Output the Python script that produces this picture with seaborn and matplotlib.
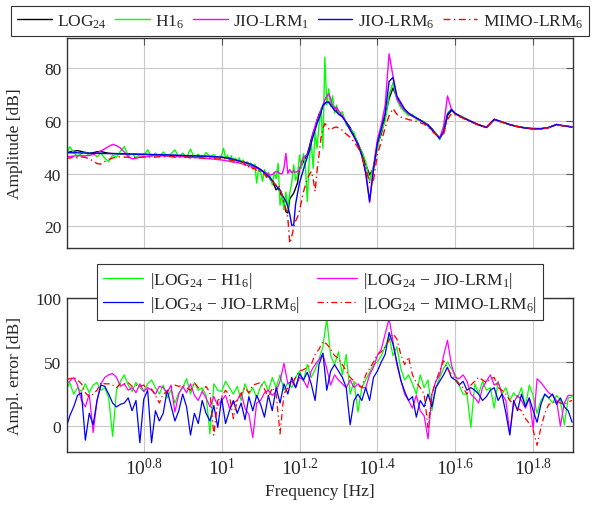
import numpy as np
import pandas as pd
import matplotlib
matplotlib.use("Agg")
import matplotlib.pyplot as plt
import seaborn as sns
from matplotlib.ticker import FixedLocator, FixedFormatter, NullLocator

# ---------------- data ----------------
# log10 of frequency [Hz] for the amplitude panel
LOG_F_TOP = [
    0.60, 0.61, 0.62, 0.63, 0.64, 0.65, 0.66, 0.67, 0.68, 0.69,
    0.70, 0.71, 0.72, 0.73, 0.74, 0.75, 0.76, 0.77, 0.78, 0.79,
    0.80, 0.81, 0.82, 0.83, 0.84, 0.85, 0.86, 0.87, 0.88, 0.89,
    0.90, 0.91, 0.92, 0.93, 0.94, 0.95, 0.96, 0.97, 0.98, 0.99,
    1.00,
    1.005, 1.010, 1.015, 1.020, 1.025, 1.030, 1.035, 1.040, 1.045, 1.050,
    1.055, 1.060, 1.065, 1.070, 1.075, 1.080, 1.085, 1.090, 1.095, 1.100,
    1.105, 1.110, 1.115, 1.120, 1.125, 1.130, 1.135, 1.140, 1.145, 1.150,
    1.155, 1.160, 1.165, 1.170, 1.175, 1.180, 1.185, 1.190, 1.195, 1.200,
    1.205, 1.210, 1.215, 1.220, 1.225, 1.230, 1.235, 1.240, 1.245, 1.250,
    1.255, 1.260, 1.265, 1.270, 1.275, 1.280, 1.285, 1.290, 1.295, 1.300,
    1.31, 1.32, 1.33, 1.34, 1.35, 1.36, 1.37, 1.38, 1.39, 1.40,
    1.41, 1.42, 1.43, 1.44, 1.45, 1.46, 1.47, 1.48, 1.49, 1.50,
    1.51, 1.52, 1.53, 1.54, 1.55, 1.56, 1.57, 1.58, 1.59, 1.60,
    1.62, 1.64, 1.66, 1.68, 1.70, 1.72, 1.74, 1.76, 1.78, 1.80,
    1.82, 1.84, 1.86, 1.88, 1.90,
]

AMP_LOG24 = [
    48.0, 48.2, 48.5, 48.7, 48.4, 48.0, 47.7, 47.9, 48.3, 48.4,
    48.0, 47.7, 47.6, 47.6, 47.5, 47.5, 47.4, 47.4, 47.3, 47.3,
    47.3, 47.2, 47.2, 47.1, 47.1, 47.0, 47.0, 46.9, 46.9, 46.8,
    46.8, 46.7, 46.7, 46.6, 46.6, 46.6, 46.5, 46.5, 46.4, 46.3,
    46.2,
    46.1, 46.0, 45.9, 45.8, 45.6, 45.4, 45.2, 45.0, 44.8, 44.6,
    44.4, 44.2, 44.0, 43.8, 43.5, 43.2, 42.8, 42.4, 42.0, 41.5,
    40.9, 40.3, 39.6, 39.0, 38.2, 37.0, 35.5, 33.8, 34.5, 33.0,
    31.0, 28.2, 25.5, 25.0, 30.5, 31.5, 32.5, 34.5, 36.5, 42.0,
    43.0, 44.5, 46.0, 47.5, 50.0, 53.0, 55.5, 57.5, 60.0, 62.5,
    64.0, 65.5, 66.5, 67.0, 67.2, 66.8, 65.9, 65.0, 64.0, 63.0,
    61.8, 59.5, 57.5, 54.6, 51.5, 48.0, 43.5, 39.5, 42.0, 51.0,
    55.0, 61.5, 68.5, 72.5, 69.0, 66.0, 64.2, 62.8, 61.8, 61.0,
    60.3, 59.5, 58.5, 57.0, 55.2, 53.5, 55.8, 62.0, 64.0, 62.8,
    61.3, 59.9, 58.6, 57.6, 60.6, 59.6, 58.6, 57.9, 57.4, 57.1,
    57.1, 57.5, 58.7, 58.1, 57.7,
]

AMP_H1 = [
    47.0, 50.2, 48.0, 46.5, 47.7, 48.3, 46.8, 47.5, 46.4, 47.8,
    45.8, 44.5, 47.0, 46.2, 48.5, 50.2, 46.8, 47.6, 46.0, 47.3,
    47.0, 49.0, 46.5, 47.8, 46.3, 48.2, 46.6, 47.5, 49.0, 46.4,
    47.8, 46.2, 49.3, 46.0, 47.4, 45.8, 48.0, 46.5, 47.2, 45.9,
    47.0,
    49.6, 45.8, 47.0, 44.8, 46.8, 44.0, 45.9, 44.3, 46.0, 43.9,
    45.2, 43.5, 44.6, 42.8, 44.0, 41.8, 43.6, 36.4, 42.0, 40.6,
    37.0, 41.5, 39.0, 40.5, 38.8, 35.7, 40.5, 38.0, 43.9, 28.0,
    32.0, 26.3, 33.0, 27.0, 32.5, 36.5, 43.3, 37.5, 39.5, 47.0,
    42.0, 47.5, 43.0, 29.4, 45.5, 52.0, 42.0, 55.8, 49.6, 58.4,
    64.7, 49.6, 84.2, 66.0, 72.2, 65.5, 69.5, 63.0, 66.0, 62.5,
    63.5, 58.5, 57.0, 55.5, 51.0, 48.5, 44.5, 37.0, 43.0, 49.5,
    56.0, 60.0, 70.0, 74.5, 68.0, 65.0, 63.5, 62.0, 62.5, 60.5,
    60.0, 59.8, 58.0, 56.5, 55.5, 52.8, 56.5, 63.0, 64.5, 62.5,
    61.5, 59.8, 58.3, 57.8, 60.4, 59.7, 58.4, 58.0, 57.2, 57.2,
    57.0, 57.6, 58.5, 58.2, 57.8,
]

AMP_JIO1 = [
    46.4, 46.5, 46.6, 46.8, 46.8, 46.7, 46.9, 47.2, 47.8, 48.6,
    49.4, 50.3, 51.1, 50.6, 49.7, 48.2, 46.5, 45.6, 45.8, 46.2,
    46.3, 46.5, 46.7, 46.8, 46.8, 46.7, 46.6, 46.6, 46.5, 46.5,
    46.4, 46.3, 46.2, 46.1, 46.0, 45.9, 45.8, 45.6, 45.5, 45.3,
    45.2,
    45.0, 44.9, 44.8, 44.6, 44.5, 44.4, 44.3, 44.2, 44.0, 43.8,
    43.6, 43.4, 43.2, 43.0, 42.8, 42.5, 42.2, 42.0, 41.7, 41.4,
    41.0, 40.6, 40.2, 39.8, 39.5, 39.6, 40.3, 40.8, 40.5, 40.0,
    39.8, 42.0, 47.7, 40.0, 41.5, 40.3, 41.0, 40.5, 40.8, 41.4,
    44.5, 46.0, 46.8, 47.0, 49.0, 52.0, 55.5, 58.0, 60.5, 62.0,
    64.0, 66.0, 68.0, 69.5, 70.3, 68.5, 65.5, 64.5, 65.3, 64.0,
    62.0, 59.3, 56.8, 54.0, 51.0, 47.0, 41.0, 29.0, 42.5, 53.0,
    58.5, 66.0, 85.5, 77.0, 68.5, 66.0, 64.0, 62.8, 61.8, 61.0,
    60.2, 59.3, 58.3, 56.6, 55.0, 53.5, 58.0, 69.5, 64.5, 62.8,
    61.2, 59.8, 58.5, 57.5, 60.6, 59.6, 58.6, 57.8, 57.3, 57.0,
    57.0, 57.5, 58.6, 58.1, 57.7,
]

AMP_JIO6 = [
    47.9, 47.9, 47.9, 47.9, 47.8, 47.8, 47.7, 47.7, 47.7, 47.7,
    47.6, 47.6, 47.6, 47.5, 47.5, 47.5, 47.4, 47.4, 47.4, 47.3,
    47.3, 47.3, 47.2, 47.2, 47.2, 47.1, 47.1, 47.0, 47.0, 46.9,
    46.9, 46.8, 46.8, 46.7, 46.7, 46.6, 46.6, 46.5, 46.4, 46.3,
    46.2,
    46.1, 46.0, 45.9, 45.8, 45.6, 45.4, 45.2, 45.0, 44.8, 44.6,
    44.4, 44.2, 44.0, 43.8, 43.5, 43.2, 42.8, 42.4, 42.0, 41.5,
    40.9, 40.3, 39.6, 39.0, 38.3, 37.3, 36.3, 35.3, 34.5, 33.8,
    32.0, 30.7, 29.5, 27.5, 24.5, 20.3, 20.5, 28.5, 32.5, 36.5,
    39.0, 41.5, 44.0, 46.2, 48.5, 51.5, 54.2, 56.5, 59.0, 61.0,
    63.0, 65.8, 66.8, 67.2, 67.0, 66.0, 65.0, 64.0, 63.4, 62.6,
    61.5, 59.5, 56.5, 54.0, 51.0, 47.0, 40.0, 29.5, 41.5, 51.5,
    57.0, 63.0, 75.0, 76.5, 69.5, 67.0, 64.5, 63.0, 62.0, 61.2,
    60.3, 59.3, 58.4, 56.8, 55.0, 53.3, 56.0, 62.5, 64.3, 62.8,
    61.2, 59.8, 58.5, 57.5, 60.6, 59.6, 58.6, 57.8, 57.3, 57.0,
    57.0, 57.5, 58.6, 58.1, 57.7,
]

AMP_MIMO6 = [
    45.8, 45.9, 46.2, 46.0, 46.3, 46.1, 45.6, 44.8, 43.8, 43.6,
    44.6, 45.4, 45.9, 46.2, 46.4, 46.3, 46.2, 46.0, 46.1, 46.2,
    46.3, 46.1, 46.4, 46.2, 46.5, 46.3, 46.6, 46.4, 46.2, 46.3,
    46.1, 46.3, 45.9, 46.1, 45.8, 46.0, 45.6, 45.9, 45.7, 46.0,
    45.6,
    45.8, 45.5, 45.2, 45.4, 44.9, 45.1, 44.6, 44.2, 44.5, 43.9,
    44.6, 43.2, 43.6, 42.5, 42.9, 41.8, 42.0, 41.0, 41.4, 40.5,
    40.0, 39.8, 38.6, 38.9, 37.6, 38.0, 36.2, 35.5, 36.0, 34.0,
    32.0, 29.0, 26.5, 23.0, 13.5, 16.0, 19.5, 22.0, 23.5, 26.0,
    29.5, 33.0, 35.5, 38.0, 39.5, 40.8, 38.0, 33.2, 41.0, 47.0,
    53.5, 57.0, 59.0, 58.0, 57.0, 56.5, 57.2, 57.5, 57.7, 57.3,
    56.5, 55.0, 53.8, 52.0, 50.0, 46.5, 42.0, 36.5, 37.5, 47.5,
    52.0, 57.5, 62.0, 64.7, 62.5, 61.5, 61.0, 60.5, 60.2, 59.8,
    59.3, 58.8, 57.8, 56.2, 54.8, 53.5, 55.0, 60.5, 62.8, 62.3,
    61.0, 59.6, 58.4, 57.4, 60.3, 59.5, 58.5, 57.8, 57.2, 56.9,
    56.9, 57.4, 58.5, 58.0, 57.6,
]

# log10 of frequency [Hz] for the error panel
LOG_F_ERR = [
    0.60, 0.61, 0.62, 0.63, 0.64, 0.65, 0.66, 0.67, 0.68, 0.69,
    0.70, 0.71, 0.72, 0.73, 0.74, 0.75, 0.76, 0.77, 0.78, 0.79,
    0.80, 0.81, 0.82, 0.83, 0.84, 0.85, 0.86, 0.87, 0.88, 0.89,
    0.90, 0.91, 0.92, 0.93, 0.94, 0.95, 0.96, 0.97, 0.98, 0.99,
    1.00, 1.01, 1.02, 1.03, 1.04, 1.05, 1.06, 1.07, 1.08, 1.09,
    1.10, 1.11, 1.12, 1.13, 1.14, 1.15, 1.16, 1.17, 1.18, 1.19,
    1.20, 1.21, 1.22, 1.23, 1.24, 1.25, 1.26, 1.27, 1.28, 1.29,
    1.30, 1.31, 1.32, 1.33, 1.34, 1.35, 1.36, 1.37, 1.38, 1.39,
    1.40, 1.41, 1.42, 1.43, 1.44, 1.45, 1.46, 1.47, 1.48, 1.49,
    1.50, 1.51, 1.52, 1.53, 1.54, 1.55, 1.56, 1.57, 1.58, 1.59,
    1.60, 1.61, 1.62, 1.63, 1.64, 1.65, 1.66, 1.67, 1.68, 1.69,
    1.70, 1.71, 1.72, 1.73, 1.74, 1.75, 1.76, 1.77, 1.78, 1.79,
    1.80, 1.81, 1.82, 1.83, 1.84, 1.85, 1.86, 1.87, 1.88, 1.89,
    1.90,
]

ERR_H1 = [
    28, 34, 25, 30, 27, 33, 26, 32, 34, 28,
    30, 22, -8, 28, 35, 40, 32, 27, 34, 30,
    27, 33, 36, 30, 25, 32, 22, 28, 18, 26,
    30, 37, 25, 34, 28, 30, 24, -6, 33, 28,
    27, 35, 30, 25, 31, 20, 33, 25, 30, 22,
    31, 35, 27, 38, 30, 40, 28, 34, 30, 38,
    43, 35, 48, 38, 44, 52, 62, 84, 55, 48,
    58, 40, 56, 25, 35, 11, 30, 36, 42, 48,
    50, 55, 62, 70, 55, 62, 45, 36, 40, 33,
    25, 40, 30, 36, 12, 30, 38, 45, 50, 45,
    40, 32, 25, 25, -1, 33, 25, 35, 28, 30,
    14, 35, 25, 30, 20, 26, 22, 30, 15, 32,
    24, 10, 20, 25, 22, 18, 24, 20, 1, 22,
    23,
]

ERR_JIO1 = [
    33, 35, 38, 32, 20, 15, 25, -5, 20, 33,
    38, 40, 41, 38, 31, 33, 28, 30, 26, 33,
    27, 30, 28, 25, 31, 30, 26, 32, 11, 25,
    31, 26, 33, 24, 20, 27, 22, 15, 23, 16,
    20, 24, 14, 18, 20, 26, 14, 9, -9, 18,
    20, 26, 28, 24, 27, 35, 49, 33, 35, 30,
    38, 36, 30, 43, 48, 52, 56, 45, 32, 40,
    36, 33, 30, 36, 30, 33, 30, 30, 40, 46,
    55, 60, 72, 84, 66, 48, 36, 25, 20, 14,
    24, 12, 8, -10, 25, 35, 40, 55, 67, 48,
    38, 37, 40, 35, 25, 22, 18, 30, 35, 40,
    32, 34, 25, 20, -6, 18, 24, 20, 14, 22,
    -2, 37, 34, 30, 26, 24, 20, 0, 18, 24,
    24,
]

ERR_JIO6 = [
    -2, 8, 15, 24, 26, -11, 10, 1, 20, 32,
    31, 25, 18, 15, 17, 18, 22, 12, 20, -13,
    21, 28, -13, 12, 4, 10, 28, 16, 4, 12,
    25, 15, -7, 10, 2, 20, 10, 4, 16, -1,
    22, 2, 12, 20, 10, 18, 5, 23, 12, 24,
    17, 7, 24, 12, 30, 18, 33, 25, 38, 30,
    41, 36, 42, 33, 20, 48, 57, 28, 43, 48,
    43, 38, 30, 1, 20, 25, 20, 30, 20, 38,
    43, 50, 56, 73, 64, 50, 36, 27, 20, 23,
    7, 20, 15, 25, 15, 30, 35, 40, 46, 38,
    36, 32, 35, 28, 30, 28, 25, 20, 23, 28,
    30, 20, 25, 10, -7, 20, 12, 25, 15, 22,
    12, 3, 17, 25, 22, 25, 17, 22, 15, 12,
    3,
]

ERR_MIMO6 = [
    36, 37, 38, 36, 33, 26, 23, 25, 28, 34,
    33, 33, 32, 30, 33, 33, 34, 31, 32, 31,
    32, 28, 29, 24, 18, 25, 27, 30, 32, 31,
    32, 30, 28, 34, 30, 28, 31, 26, -7, 20,
    23, 28, 24, 6, 20, 25, 30, 26, 32, 33,
    34, 29, 22, 30, 25, -6, 25, 30, 33, 38,
    43, 44, 46, 48, 56, 60, 66, 64, 60, 55,
    53, 48, 43, 38, 35, 32, 30, 40, 45, 50,
    56, 58, 62, 67, 72, 68, 56, 48, 54, 40,
    34, 30, 25, -1, 25, 35, 43, 51, 45, 40,
    36, 33, 30, 25, 32, 35, 38, 36, 34, 37,
    38, 30, 28, 25, 20, 17, 14, 12, 6, 2,
    -3, -15, -1, 10, 17, 18, 20, 18, 17, 19,
    20,
]

TOP_NAMES = ["LOG$_{24}$", "H1$_{6}$", "JIO-LRM$_{1}$", "JIO-LRM$_{6}$", "MIMO-LRM$_{6}$"]
ERR_NAMES = ["|LOG$_{24}$ − H1$_{6}$|", "|LOG$_{24}$ − JIO-LRM$_{1}$|",
             "|LOG$_{24}$ − JIO-LRM$_{6}$|", "|LOG$_{24}$ − MIMO-LRM$_{6}$|"]
X_TICK_EXP = [0.8, 1.0, 1.2, 1.4, 1.6, 1.8]
X_TICK_LABELS = ["$10^{0.8}$", "$10^{1}$", "$10^{1.2}$", "$10^{1.4}$", "$10^{1.6}$", "$10^{1.8}$"]

# ---------------- tables ----------------
f_top = 10 ** np.array(LOG_F_TOP)
top_series = [AMP_LOG24, AMP_H1, AMP_JIO1, AMP_JIO6, AMP_MIMO6]
df_top = pd.concat(
    [pd.DataFrame({"freq": f_top, "amp": vals, "series": name})
     for name, vals in zip(TOP_NAMES, top_series)], ignore_index=True)

f_err = 10 ** np.array(LOG_F_ERR)
err_series = [ERR_H1, ERR_JIO1, ERR_JIO6, ERR_MIMO6]
df_err = pd.concat(
    [pd.DataFrame({"freq": f_err, "err": vals, "series": name})
     for name, vals in zip(ERR_NAMES, err_series)], ignore_index=True)

# ---------------- style ----------------
sns.set_style("white")
plt.rcParams.update({
    "font.family": ["Liberation Serif", "DejaVu Serif"],
    "mathtext.fontset": "custom",
    "mathtext.rm": "Liberation Serif",
    "mathtext.it": "Liberation Serif:italic",
    "mathtext.bf": "Liberation Serif:bold",
    "font.size": 12.5,
})

top_pal = {TOP_NAMES[0]: "black", TOP_NAMES[1]: "#00ff00", TOP_NAMES[2]: "#ff00ff",
           TOP_NAMES[3]: "#0000ff", TOP_NAMES[4]: "#ff0000"}
top_dash = {n: "" for n in TOP_NAMES}
top_dash[TOP_NAMES[4]] = (5, 2.5, 1, 2.5)
err_pal = {ERR_NAMES[0]: "#00ff00", ERR_NAMES[1]: "#ff00ff",
           ERR_NAMES[2]: "#0000ff", ERR_NAMES[3]: "#ff0000"}
err_dash = {n: "" for n in ERR_NAMES}
err_dash[ERR_NAMES[3]] = (5, 2.5, 1, 2.5)

fig = plt.figure(figsize=(5.97, 5.06), dpi=100)
ax1 = fig.add_axes([0.1117, 0.5073, 0.8486, 0.4156])
ax2 = fig.add_axes([0.1117, 0.1053, 0.8486, 0.3038])

sns.lineplot(data=df_top, x="freq", y="amp", hue="series", style="series",
             hue_order=TOP_NAMES, style_order=TOP_NAMES, palette=top_pal,
             dashes=top_dash, estimator=None, sort=False, lw=1.0, ax=ax1, legend=False)
sns.lineplot(data=df_err, x="freq", y="err", hue="series", style="series",
             hue_order=ERR_NAMES, style_order=ERR_NAMES, palette=err_pal,
             dashes=err_dash, estimator=None, sort=False, lw=0.9, ax=ax2, legend=False)

for ax in (ax1, ax2):
    ax.set_xscale("log")
    ax.set_xlim(4.0, 80.0)
    ax.xaxis.set_major_locator(FixedLocator([10 ** e for e in X_TICK_EXP]))
    ax.xaxis.set_major_formatter(FixedFormatter(X_TICK_LABELS))
    ax.xaxis.set_minor_locator(NullLocator())
    ax.grid(True, color="#c8c8c8", lw=0.8)
    ax.set_axisbelow(True)
    ax.tick_params(which="both", direction="in", top=True, right=True,
                   length=5, width=0.8, color="#555555")
    ax.tick_params(axis="y", pad=4, labelsize=12.5)
    ax.tick_params(axis="x", pad=4, labelsize=14)
    for s in ax.spines.values():
        s.set_color("#333333")
        s.set_linewidth(1.0)

ax1.set_ylim(11.6, 91.5)
ax1.set_yticks([20, 40, 60, 80])
ax1.tick_params(labelbottom=False)
ax1.set_xlabel("")
ax1.set_ylabel("Amplitude [dB]", fontsize=12.5)
ax1.yaxis.set_label_coords(-0.086, 0.5)

ax2.set_ylim(-20, 100)
ax2.set_yticks([0, 50, 100])
ax2.set_xlabel("Frequency [Hz]", fontsize=12.5)
ax2.set_ylabel("Ampl. error [dB]", fontsize=12.5)
ax2.yaxis.set_label_coords(-0.086, 0.5)
ax2.xaxis.set_label_coords(0.5, -0.205)

leg1 = fig.legend(ax1.get_lines(), TOP_NAMES, loc="center", bbox_to_anchor=(0.5025, 0.9565),
                  ncol=5, frameon=True, fancybox=False, framealpha=1, edgecolor="#333333",
                  handlelength=2.0, handletextpad=0.3, columnspacing=0.5, borderpad=0.35,
                  fontsize=12.5)
leg1.get_frame().set_linewidth(0.8)

# legend entries laid out row by row as in the reference (matplotlib fills columns first)
err_lines = ax2.get_lines()
order = [0, 2, 1, 3]
leg2 = ax2.legend([err_lines[i] for i in order], [ERR_NAMES[i] for i in order],
                  loc="center", bbox_to_anchor=(0.5, 1.04),
                  ncol=2, frameon=True, fancybox=False, framealpha=1, edgecolor="#333333",
                  handlelength=2.3, handletextpad=0.4, columnspacing=1.0, borderpad=0.35,
                  labelspacing=0.2, fontsize=12.5)
leg2.get_frame().set_linewidth(0.8)

fig.savefig("out.png", dpi=100)
